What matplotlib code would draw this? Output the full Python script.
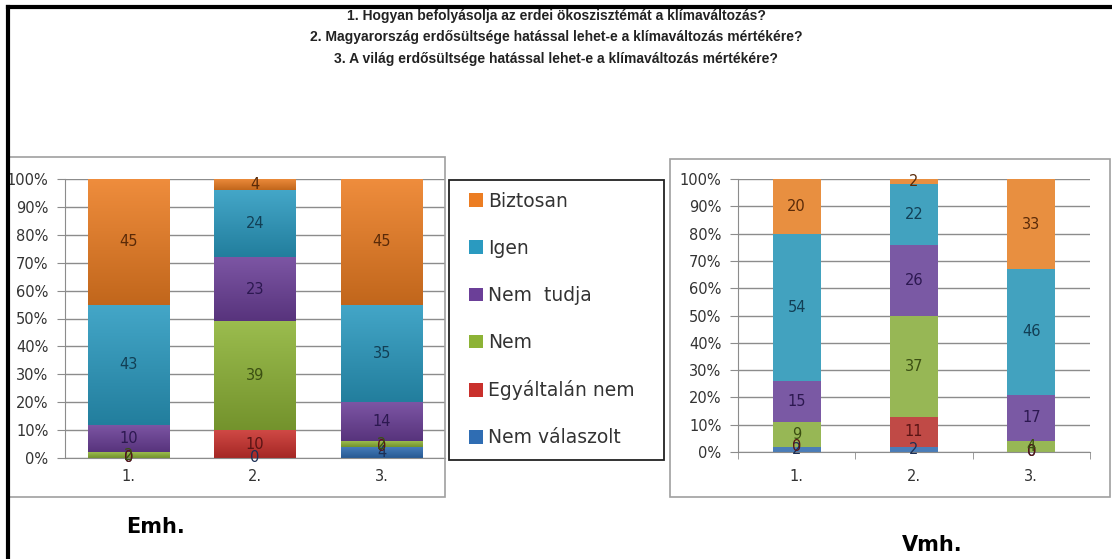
import numpy as np
import matplotlib
matplotlib.use("Agg")
import matplotlib.pyplot as plt
from matplotlib.patches import Rectangle, Patch
from matplotlib.lines import Line2D
from matplotlib.colors import to_rgb

W, H = 1112, 559

# adatok
categories = ['1.', '2.', '3.']
series = ['Nem válaszolt', 'Egyáltalán nem', 'Nem', 'Nem  tudja', 'Igen', 'Biztosan']
emh = {
    'Nem válaszolt': [0, 0, 4],
    'Egyáltalán nem': [0, 10, 0],
    'Nem': [2, 39, 2],
    'Nem  tudja': [10, 23, 14],
    'Igen': [43, 24, 35],
    'Biztosan': [45, 4, 45],
}
vmh = {
    'Nem válaszolt': [2, 2, 0],
    'Egyáltalán nem': [0, 11, 0],
    'Nem': [9, 37, 4],
    'Nem  tudja': [15, 26, 17],
    'Igen': [54, 22, 46],
    'Biztosan': [20, 2, 33],
}
questions = [
    '1. Hogyan befolyásolja az erdei ökoszisztémát a klímaváltozás?',
    '2. Magyarország erdősültsége hatással lehet-e a klímaváltozás mértékére?',
    '3. A világ erdősültsége hatással lehet-e a klímaváltozás mértékére?',
]

colors_left = ['#2f6db3', '#c9302c', '#8db336', '#6b3f98', '#2a9ac0', '#ec7d22']
colors_right = ['#4a7db8', '#c04a46', '#97b755', '#7a59a4', '#42a2bf', '#e88f40']
label_cols = ['#1c2f55', '#5a1414', '#3b4f12', '#2c1850', '#123f55', '#5a2a08']


def rect(x0, y0, x1, y1):
    return [x0 / W, 1 - y1 / H, (x1 - x0) / W, (y1 - y0) / H]


fig = plt.figure(figsize=(W / 100, H / 100), dpi=100)
fig.patch.set_facecolor('white')

# keret
fig.add_artist(Line2D([8 / W, 8 / W], [0, 1 - 7 / H], transform=fig.transFigure, color='black', lw=3))
fig.add_artist(Line2D([8 / W, 1], [1 - 7 / H, 1 - 7 / H], transform=fig.transFigure, color='black', lw=3))

# diagram dobozok
for x0, y0, x1, y1 in [(8, 157, 445, 497), (670, 159, 1110, 497)]:
    fig.add_artist(Rectangle((x0 / W, 1 - y1 / H), (x1 - x0) / W, (y1 - y0) / H,
                             transform=fig.transFigure, fill=False, ec='#a0a0a0', lw=1.2))

for i, q in enumerate(questions):
    fig.text(0.5, 1 - (16 + 21.5 * i) / H, q, ha='center', va='center', fontsize=10,
             fontweight='bold', color='#222222', family=['Liberation Sans', 'DejaVu Sans'])


def draw(ax, data, cols, width, gradient=False):
    x = np.arange(len(categories))
    bottom = np.zeros(len(categories))
    for s, c, lc in zip(series, cols, label_cols):
        v = np.array(data[s], dtype=float)
        bars = ax.bar(x, v, width, bottom=bottom, color=c, edgecolor='none', zorder=2)
        if gradient:
            base = np.array(to_rgb(c))
            top = base + (1 - base) * 0.12
            bot = base * 0.82
            t = np.linspace(0, 1, 64)[:, None]
            img = (bot[None, :] * (1 - t) + top[None, :] * t)[:, None, :]
            for b in bars:
                if b.get_height() <= 0:
                    continue
                bx, by = b.get_x(), b.get_y()
                im = ax.imshow(img, extent=[bx, bx + b.get_width(), by, by + b.get_height()],
                               origin='lower', aspect='auto', zorder=2.1, interpolation='bilinear')
                im.set_clip_path(b)
        for xi, b, vi in zip(x, bottom, v):
            ax.text(xi, b + vi / 2, f'{int(vi)}', ha='center', va='center', fontsize=10.5,
                    color=lc, zorder=3)
        bottom += v
    ax.set_xlim(-0.5, len(categories) - 0.5)
    ax.set_ylim(0, 100)
    ax.set_aspect('auto')
    ax.set_yticks(np.arange(0, 101, 10))
    ax.set_yticklabels([f'{t}%' for t in range(0, 101, 10)])
    ax.yaxis.grid(True, color='#8c8c8c', lw=1, zorder=0)
    ax.set_axisbelow(True)
    ax.set_xticks(x)
    ax.set_xticklabels(categories)
    for sp in ['top', 'right']:
        ax.spines[sp].set_visible(False)
    ax.spines['left'].set_color('#8c8c8c')
    ax.spines['bottom'].set_color('#8c8c8c')
    ax.tick_params(axis='y', length=6, color='#8c8c8c', labelsize=10.5, labelcolor='#333333', pad=6)
    ax.tick_params(axis='x', length=0, labelsize=10.5, labelcolor='#333333', pad=8)


axL = fig.add_axes(rect(65, 179, 445, 458))
draw(axL, emh, colors_left, 0.64, gradient=True)

axR = fig.add_axes(rect(738, 179, 1090, 452))
draw(axR, vmh, colors_right, 0.41)
axR.set_xticks(np.arange(-0.5, len(categories)), minor=True)
axR.tick_params(axis='x', which='minor', length=5, color='#8c8c8c')
axR.tick_params(axis='x', which='major', pad=12)

# jelmagyarázat
fig.add_artist(Rectangle((449 / W, 1 - 460 / H), (664 - 449) / W, (460 - 180) / H,
                         transform=fig.transFigure, fill=False, ec='#222222', lw=1.3))
handles = [Patch(facecolor=c, edgecolor='none') for c in colors_left[::-1]]
leg = fig.legend(handles, series[::-1], loc='upper left',
                 bbox_to_anchor=(465 / W, 1 - 188 / H), frameon=False,
                 fontsize=13.5, handlelength=0.75, handleheight=0.75, handletextpad=0.3,
                 labelspacing=1.5, borderpad=0.2, borderaxespad=0)
for t in leg.get_texts():
    t.set_color('#333333')

fig.text(155 / W, 1 - 527 / H, 'Emh.', ha='center', va='center', fontsize=15, fontweight='bold')
fig.text(932 / W, 1 - 545 / H, 'Vmh.', ha='center', va='center', fontsize=15, fontweight='bold')

fig.savefig('out.png', dpi=100)
